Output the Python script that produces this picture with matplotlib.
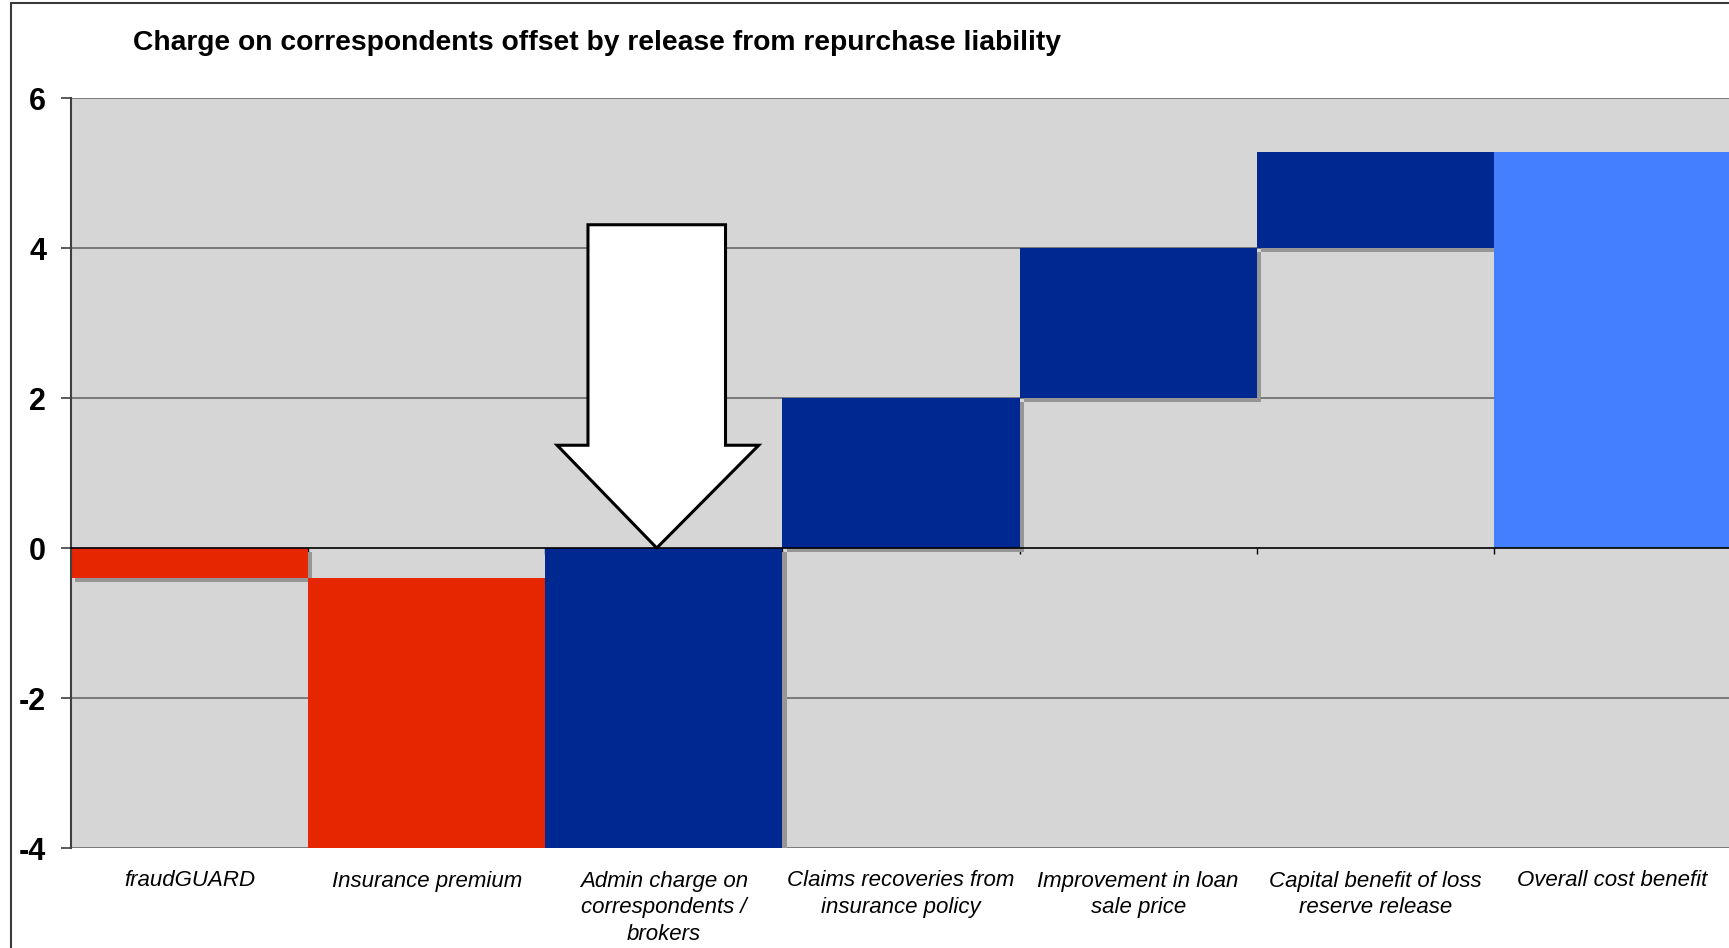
import matplotlib as mpl
mpl.use("Agg")
import matplotlib.pyplot as plt
import matplotlib.patheffects as pe
from matplotlib.patches import Polygon, Rectangle
import numpy as np

plt.rcParams['font.family'] = ['Liberation Sans', 'DejaVu Sans']

# waterfall steps, last column is the running total
categories = ["fraudGUARD", "Insurance premium",
              "Admin charge on\ncorrespondents /\nbrokers",
              "Claims recoveries from\ninsurance policy",
              "Improvement in loan\nsale price",
              "Capital benefit of loss\nreserve release",
              "Overall cost benefit"]
steps = [-0.4, -3.6, 4.0, 2.0, 2.0, 1.28]
y_ticks = [-4, -2, 0, 2, 4, 6]
title = "Charge on correspondents offset by release from repurchase liability"

RED = "#e62600"
NAVY = "#002891"
LIGHT = "#437fff"

# bottoms / heights for the floating bars
ends = np.cumsum(steps)
starts = np.concatenate([[0], ends[:-1]])
x = np.arange(len(categories))
step_colors = [RED if i < 2 else NAVY for i in range(len(steps))]

W, H = 1729, 948
fig = plt.figure(figsize=(W / 100, H / 100), dpi=100)
fig.patch.set_facecolor("white")

# chart-area border
fig.patches.append(Rectangle((11 / W, -0.1), 1.2, 1 - 3 / H + 0.1, transform=fig.transFigure,
                             fill=False, edgecolor="#3a3a3a", lw=1.5))

ax = fig.add_axes([71 / W, 1 - 848 / H, (1731 - 71) / W, (848 - 98) / H])
ax.set_facecolor("#d6d6d6")
ax.set_xlim(-0.5, len(categories) - 0.5)
ax.set_ylim(-4, 6)

for t in y_ticks:
    if t != 0:
        ax.axhline(t, color="#606060", lw=1.1, zorder=1)

shadow = [pe.SimplePatchShadow(offset=(3, -3), shadow_rgbFace="#969696", alpha=1.0), pe.Normal()]
ax.bar(x[:-1], ends - starts, bottom=starts, width=1.0, color=step_colors, zorder=2,
       path_effects=shadow)
ax.bar(x[-1], ends[-1], width=1.0, color=LIGHT, zorder=2)

# y axis
ax.set_yticks(y_ticks)
ax.set_yticklabels([str(t) for t in y_ticks], fontsize=22, fontweight="bold")
ax.tick_params(axis="y", direction="out", length=7, width=1.2, color="#404040", pad=11)
ax.spines["left"].set_color("#404040")
ax.spines["left"].set_linewidth(1.5)
ax.spines["top"].set_visible(False)
ax.spines["right"].set_visible(False)

# x axis sits on the zero line, ticks between categories
ax.spines["bottom"].set_position(("data", 0))
ax.spines["bottom"].set_color("black")
ax.spines["bottom"].set_linewidth(1.2)
ax.spines["bottom"].set_zorder(3)
ax.set_xticks(np.arange(-0.5, len(categories), 1))
ax.set_xticklabels([])
ax.tick_params(axis="x", direction="out", length=4, width=1, color="black")

for xi, lab in zip(x, categories):
    ax.text(xi, -4.3, lab, ha="center", va="top", fontsize=16, style="italic",
            linespacing=1.36, clip_on=False)

# big hollow arrow pointing at the admin charge bar
tip_x, tip_y = x[2] - 0.03, ends[2]
arrow = Polygon([(tip_x - 0.29, 4.31), (tip_x + 0.29, 4.31), (tip_x + 0.29, 1.37),
                 (tip_x + 0.43, 1.37), (tip_x, tip_y), (tip_x - 0.42, 1.37),
                 (tip_x - 0.29, 1.37)], closed=True, facecolor="white",
                edgecolor="black", lw=2.2, joinstyle="miter", zorder=4)
ax.add_patch(arrow)

fig.text(133 / W, 1 - 43 / H, title, fontsize=20.3, fontweight="bold", ha="left", va="center")

fig.savefig("out.png", dpi=100)
